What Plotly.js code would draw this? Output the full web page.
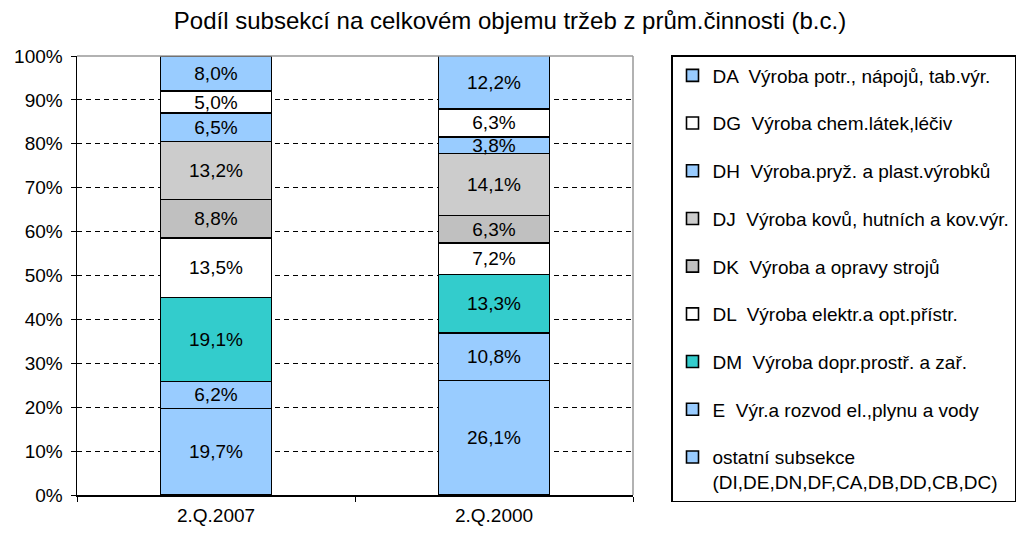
<!DOCTYPE html>
<html>
<head>
<meta charset="utf-8">
<script src="https://cdn.plot.ly/plotly-3.0.1.min.js"></script>
<style>html,body{margin:0;padding:0;background:#fff;}#chart{width:1020px;height:533px;}</style>
</head>
<body>
<div id="chart"></div>
<script>
// Categories (x axis)
const categories = ["2.Q.2007", "2.Q.2000"];

// Series names (bottom of stack first)
const seriesNames = [
  "ostatní subsekce<br>(DI,DE,DN,DF,CA,DB,DD,CB,DC)",
  "E  Výr.a rozvod el.,plynu a vody",
  "DM  Výroba dopr.prostř. a zař.",
  "DL  Výroba elektr.a opt.přístr.",
  "DK  Výroba a opravy strojů",
  "DJ  Výroba kovů, hutních a kov.výr.",
  "DH  Výroba.pryž. a plast.výrobků",
  "DG  Výroba chem.látek,léčiv",
  "DA  Výroba potr., nápojů, tab.výr."
];

// Values in percent for [2.Q.2007, 2.Q.2000]
const ostatni = [19.7, 26.1];
const valE    = [6.2, 10.8];
const valDM   = [19.1, 13.3];
const valDL   = [13.5, 7.2];
const valDK   = [8.8, 6.3];
const valDJ   = [13.2, 14.1];
const valDH   = [6.5, 3.8];
const valDG   = [5.0, 6.3];
const valDA   = [8.0, 12.2];

const seriesValues = [ostatni, valE, valDM, valDL, valDK, valDJ, valDH, valDG, valDA];
const seriesColors = ["#99CCFF", "#99CCFF", "#33CCCC", "#FFFFFF", "#C0C0C0", "#CCCCCC", "#99CCFF", "#FFFFFF", "#99CCFF"];

const FONT = "Liberation Sans, Arial, sans-serif";

const fmt = v => v.toFixed(1).replace(".", ",") + "%";

const traces = seriesValues.map((vals, i) => ({
  type: "bar",
  name: seriesNames[i],
  x: categories,
  y: vals.map(v => v / 100),
  text: vals.map(fmt),
  texttemplate: "%{text}",
  textposition: "inside",
  insidetextanchor: "middle",
  textangle: 0,
  constraintext: "none",
  textfont: {family: FONT, size: 19, color: "#000"},
  marker: {color: seriesColors[i], line: {color: "#000", width: 1.6}},
  legendgroup: "g" + i,
  legendrank: 100 - i,
  hoverinfo: "skip"
}));

const layout = {
  width: 1020,
  height: 533,
  margin: {l: 77, r: 387, t: 56, b: 38},
  paper_bgcolor: "#fff",
  plot_bgcolor: "#fff",
  barmode: "stack",
  bargap: 0.6,
  showlegend: true,
  uniformtext: {mode: "show", minsize: 19},
  title: {
    text: "Podíl subsekcí na celkovém objemu tržeb z prům.činnosti (b.c.)",
    font: {family: FONT, size: 24, color: "#000"},
    x: 0.5, xref: "container", xanchor: "center",
    y: 0.962, yref: "container", yanchor: "middle"
  },
  xaxis: {
    type: "category",
    showline: true, linecolor: "#000", linewidth: 1.5,
    mirror: false,
    ticks: "outside", tickson: "boundaries", ticklen: 5, tickcolor: "#000",
    tickfont: {family: FONT, size: 19, color: "#000"},
    ticklabelstandoff: 3,
    showgrid: false
  },
  yaxis: {
    range: [0, 1],
    tickvals: [0, 0.1, 0.2, 0.3, 0.4, 0.5, 0.6, 0.7, 0.8, 0.9, 1.0],
    tickformat: ".0%",
    showline: true, linecolor: "#000", linewidth: 1.5,
    ticks: "outside", ticklen: 5, tickcolor: "#000",
    tickfont: {family: FONT, size: 19, color: "#000"},
    ticklabelstandoff: 4,
    showgrid: true, gridcolor: "#000", gridwidth: 1, griddash: "5px,4px",
    zeroline: false
  },
  shapes: [
    {type: "line", xref: "paper", yref: "paper", x0: 0, x1: 1, y0: 1, y1: 1, line: {color: "#999", width: 1.5}},
    {type: "line", xref: "paper", yref: "paper", x0: 1, x1: 1, y0: 0, y1: 1, line: {color: "#999", width: 1.5}}
  ],
  legend: {
    xref: "container", yref: "container",
    x: 671 / 1020, xanchor: "left",
    y: 1 - 55 / 533, yanchor: "top",
    maxheight: 500,
    traceorder: "grouped",
    tracegroupgap: 20,
    valign: "top",
    bgcolor: "#fff",
    bordercolor: "#000",
    borderwidth: 1.5,
    font: {family: FONT, size: 19, color: "#000"},
    itemclick: false, itemdoubleclick: false
  }
};

Plotly.newPlot("chart", traces, layout, {displayModeBar: false, staticPlot: true});
</script>
</body>
</html>
